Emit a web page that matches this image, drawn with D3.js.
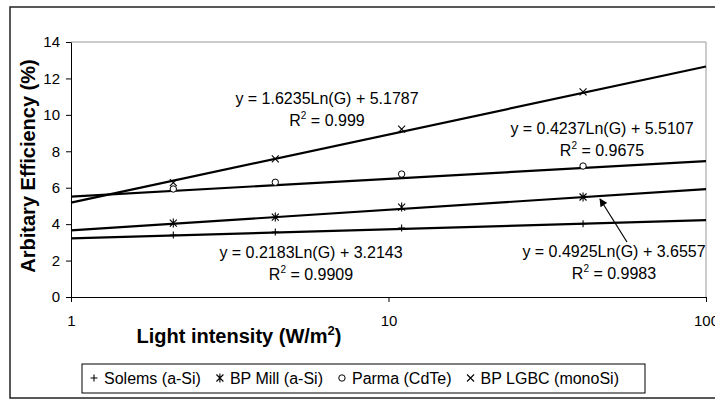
<!DOCTYPE html>
<html>
<head>
<meta charset="utf-8">
<script src="https://cdn.jsdelivr.net/npm/d3@7"></script>
<style>
  body { margin: 0; background: #fff; }
  text { font-family: "Liberation Sans", Arial, sans-serif; fill: #000; }
</style>
</head>
<body>
<div id="container"></div>
<script>
const WIDTH = 715;
const HEIGHT = 401;
const PLOT = { LEFT: 71, TOP: 42, RIGHT: 706, BOTTOM: 297 };

// data
const intensity = [2.1, 4.4, 11, 41];
const seriesNames = ['Solems (a-Si)', 'BP Mill (a-Si)', 'Parma (CdTe)', 'BP LGBC (monoSi)'];
const solems = [3.40, 3.57, 3.79, 4.02];
const bpMill = [4.06, 4.39, 4.94, 5.49];
const parma = [5.93, 6.30, 6.75, 7.19];
const bpLgbc = [6.28, 7.58, 9.22, 11.26];
const slopes = [0.2183, 0.4925, 0.4237, 1.6235];
const intercepts = [3.2143, 3.6557, 5.5107, 5.1787];
const rSquared = ['0.9909', '0.9983', '0.9675', '0.999'];
const xTicks = [1, 10, 100];
const yTicks = [0, 2, 4, 6, 8, 10, 12, 14];

const seriesValues = [solems, bpMill, parma, bpLgbc];
const markerTypes = ['plus', 'asterisk', 'circle', 'cross'];

// where each equation label sits (centre x, first baseline)
const labelAnchors = [[311, 258], [614, 257], [602, 134], [327, 104]];

const series = seriesNames.map((name, i) => ({
  name,
  marker: markerTypes[i],
  slope: slopes[i],
  intercept: intercepts[i],
  r2: rSquared[i],
  points: intensity.map((g, j) => ({ g, v: seriesValues[i][j] }))
}));

const svg = d3.select('#container')
              .append('svg')
                .attr('width', WIDTH)
                .attr('height', HEIGHT);

// outer chart border (right side runs off the picture)
svg.append('rect')
     .attr('x', 10).attr('y', 7)
     .attr('width', 720).attr('height', 391)
     .attr('fill', '#fff')
     .attr('stroke', '#222')
     .attr('stroke-width', 1.5);

const xscale = d3.scaleLog().domain([1, 100]).range([PLOT.LEFT, PLOT.RIGHT]);
const yscale = d3.scaleLinear().domain([0, 14]).range([PLOT.BOTTOM, PLOT.TOP]);

// plot area frame: grey top and right
svg.append('path')
     .attr('d', `M${PLOT.LEFT},${PLOT.TOP}H${PLOT.RIGHT}V${PLOT.BOTTOM}`)
     .attr('fill', 'none')
     .attr('stroke', '#999')
     .attr('stroke-width', 1);

const xAxis = svg.append('g')
                 .attr('transform', `translate(0, ${PLOT.BOTTOM})`)
                 .call(d3.axisBottom(xscale)
                         .tickValues(xTicks)
                         .tickFormat(d3.format('d'))
                         .tickSize(5)
                         .tickSizeOuter(0)
                         .tickPadding(13));

const yAxis = svg.append('g')
                 .attr('transform', `translate(${PLOT.LEFT}, 0)`)
                 .call(d3.axisLeft(yscale)
                         .tickValues(yTicks)
                         .tickSize(5)
                         .tickSizeOuter(0)
                         .tickPadding(6));

[xAxis, yAxis].forEach(ax => {
  ax.selectAll('text').attr('font-size', 15).attr('font-family', null);
  ax.selectAll('line, path').attr('stroke', '#000');
});

// trendlines, y = a ln(G) + b, from the labelled fits
const line = d3.line()
               .x(d => xscale(d.g))
               .y(d => yscale(d.v));

svg.selectAll('.trend')
   .data(series)
   .enter()
   .append('path')
     .attr('class', 'trend')
     .attr('d', s => line(xscale.domain().map(g => ({ g, v: s.slope * Math.log(g) + s.intercept }))))
     .attr('fill', 'none')
     .attr('stroke', '#000')
     .attr('stroke-width', 2.2);

const markerPath = (type, r) => {
  if (type === 'plus') return `M${-r},0H${r}M0,${-r}V${r}`;
  if (type === 'cross') return `M${-r},${-r}L${r},${r}M${-r},${r}L${r},${-r}`;
  if (type === 'asterisk') return `M${-r},${-r}L${r},${r}M${-r},${r}L${r},${-r}M0,${-r * 1.3}V${r * 1.3}`;
  return null;
};

const drawMarker = (g, type) => {
  if (type === 'circle') {
    g.append('circle').attr('r', 3.2).attr('fill', '#fff').attr('stroke', '#000').attr('stroke-width', 1);
  } else {
    g.append('path').attr('d', markerPath(type, 3.5)).attr('fill', 'none').attr('stroke', '#000').attr('stroke-width', 1.1);
  }
};

series.forEach(s => {
  svg.append('g')
     .selectAll('g')
     .data(s.points)
     .enter()
     .append('g')
       .attr('transform', d => `translate(${xscale(d.g)}, ${yscale(d.v)})`)
       .each(function() { drawMarker(d3.select(this), s.marker); });
});

// equation labels
series.forEach((s, i) => {
  const [cx, by] = labelAnchors[i];
  svg.append('text')
     .attr('x', cx).attr('y', by)
     .attr('text-anchor', 'middle')
     .attr('font-size', 16)
     .text(`y = ${s.slope.toFixed(4)}Ln(G) + ${s.intercept.toFixed(4)}`);
  const r2 = svg.append('text')
                .attr('x', cx).attr('y', by + 22)
                .attr('text-anchor', 'middle')
                .attr('font-size', 16);
  r2.append('tspan').text('R');
  r2.append('tspan').attr('font-size', 10).attr('dy', -7).text('2');
  r2.append('tspan').attr('dy', 7).text(` = ${s.r2}`);
});

// arrow from the BP Mill label to its line
svg.append('defs')
   .append('marker')
     .attr('id', 'arrowhead')
     .attr('viewBox', '0 0 10 10')
     .attr('refX', 9).attr('refY', 5)
     .attr('markerWidth', 9).attr('markerHeight', 8)
     .attr('markerUnits', 'userSpaceOnUse')
     .attr('orient', 'auto')
   .append('path')
     .attr('d', 'M0,0L10,5L0,10Z')
     .attr('fill', '#000');

svg.append('line')
     .attr('x1', 627).attr('y1', 242)
     .attr('x2', 600).attr('y2', 199)
     .attr('stroke', '#000')
     .attr('stroke-width', 1.2)
     .attr('marker-end', 'url(#arrowhead)');

// axis titles
const xTitle = svg.append('text')
                  .attr('x', 239).attr('y', 343)
                  .attr('text-anchor', 'middle')
                  .attr('font-size', 20)
                  .attr('font-weight', 'bold');
xTitle.append('tspan').text('Light intensity (W/m');
xTitle.append('tspan').attr('font-size', 13).attr('dy', -8).text('2');
xTitle.append('tspan').attr('dy', 8).text(')');

svg.append('text')
     .attr('transform', 'translate(35, 166) rotate(-90)')
     .attr('text-anchor', 'middle')
     .attr('font-size', 20)
     .attr('font-weight', 'bold')
     .text('Arbitary Efficiency (%)');

// legend
const legend = svg.append('g');
legend.append('rect')
        .attr('x', 82).attr('y', 364)
        .attr('width', 563).attr('height', 29)
        .attr('fill', '#fff')
        .attr('stroke', '#000')
        .attr('stroke-width', 1);

let lx = 94;
series.forEach(s => {
  const item = legend.append('g').attr('transform', `translate(${lx}, 378)`);
  drawMarker(item, s.marker);
  const t = legend.append('text')
                  .attr('x', lx + 10).attr('y', 384)
                  .attr('font-size', 16)
                  .text(s.name);
  lx = lx + 10 + t.node().getComputedTextLength() + 19;
});
</script>
</body>
</html>
